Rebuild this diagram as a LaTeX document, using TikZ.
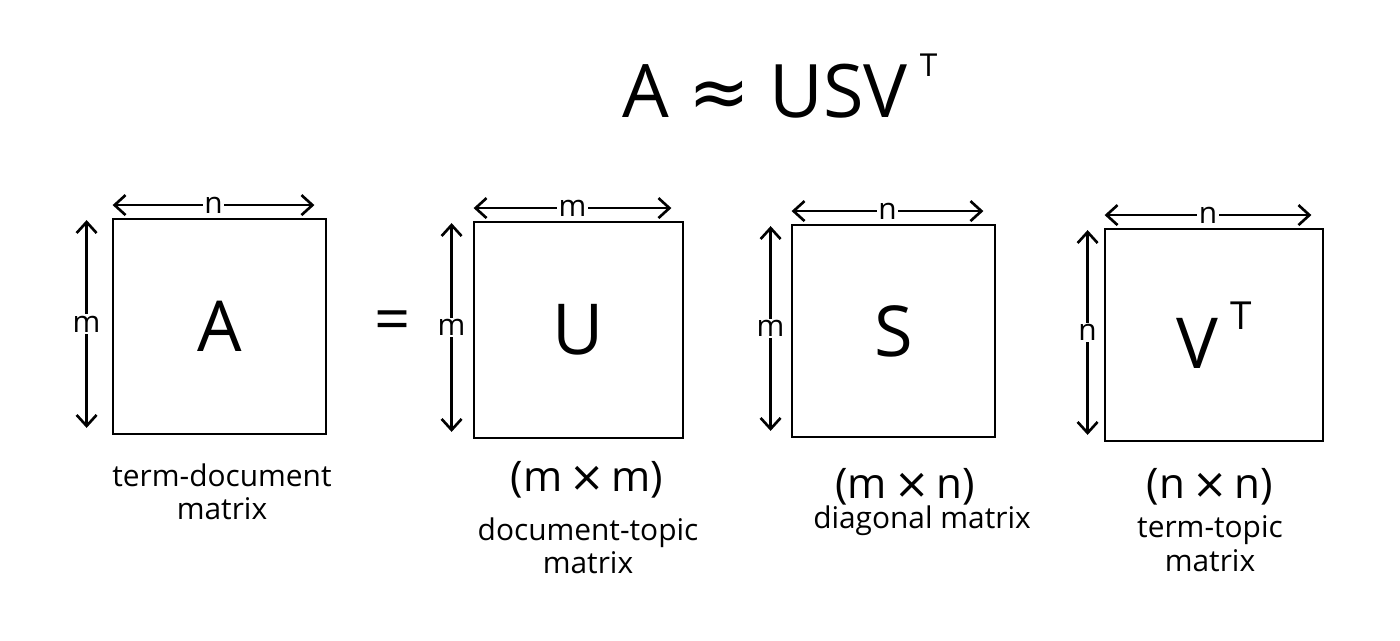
\documentclass[tikz,border=0pt]{standalone}
\usepackage{fontspec}
\setmainfont{Open Sans}
\newfontfamily\symfont{DejaVu Sans}
\usetikzlibrary{arrows.meta}

\newcommand{\supT}[2]{\raisebox{#2}{\fontsize{#1}{#1}\selectfont T}}

\begin{document}
\begin{tikzpicture}[
		matbox/.style={draw, line width=1.6pt, inner sep=0pt, font=\fontsize{40}{40}\selectfont},
		dimline/.style={line width=1.5pt, {Straight Barb[length=2.2mm,width=4mm]}-{Straight Barb[length=2.2mm,width=4mm]}},
		dimlabel/.style={fill=white, inner sep=1pt, font=\fontsize{17}{17}\selectfont},
		sizelabel/.style={font=\fontsize{24}{24}\selectfont},
		caption/.style={align=center, font=\fontsize{17}{19}\selectfont}
	]
		\useasboundingbox[fill=white] (0, 0) rectangle (28, 12.82);

		% title
		\node[font=\fontsize{42}{42}\selectfont] (title) at (15.6, 11.1) {A {\symfont\char"2248} USV\,\supT{18}{.55em}};

		% the four matrices
		\node[matbox, minimum width=4.26cm, minimum height=4.3cm] (matA) at (4.39, 6.29) {A};
		\node[matbox, minimum width=4.18cm, minimum height=4.32cm] (matU) at (11.57, 6.22) {U};
		\node[matbox, minimum width=4.06cm, minimum height=4.24cm] (matS) at (17.87, 6.2) {S};
		\node[matbox, minimum width=4.36cm, minimum height=4.24cm] (matV) at (24.28, 6.12) {V\,\supT{22}{.55em}};

		\node[font=\fontsize{36}{36}\selectfont] (eq) at (7.86, 6.3) {=};

		% dimension arrows
		\foreach \mat/\wlab/\hlab/\off in {matA/n/m/.5, matU/m/m/.42, matS/n/m/.4, matV/n/n/.32}
			{
				\draw[dimline] ([shift={(.02, .25)}]\mat.north west) -- node[dimlabel] {\wlab} ([shift={(-.26, .25)}]\mat.north east);
				\draw[dimline] ([shift={(-\off, -.05)}]\mat.north west) -- node[dimlabel] {\hlab} ([shift={(-\off, .15)}]\mat.south west);
			}

		% sizes and captions
		\node[caption] (capA) at (4.44, 2.98) {term-document\\matrix};

		\node[sizelabel] (sizeU) at (11.74, 3.22) {(m\,{\symfont\char"00D7}\,m)};
		\node[caption] (capU) at (11.76, 1.9) {document-topic\\matrix};

		\node[sizelabel] (sizeS) at (18.1, 3.08) {(m\,{\symfont\char"00D7}\,n)};
		\node[caption] (capS) at (18.44, 2.4) {diagonal matrix};

		\node[sizelabel] (sizeV) at (24.2, 3.08) {(n\,{\symfont\char"00D7}\,n)};
		\node[caption] (capV) at (24.2, 1.95) {term-topic\\matrix};
	\end{tikzpicture}
\end{document}
